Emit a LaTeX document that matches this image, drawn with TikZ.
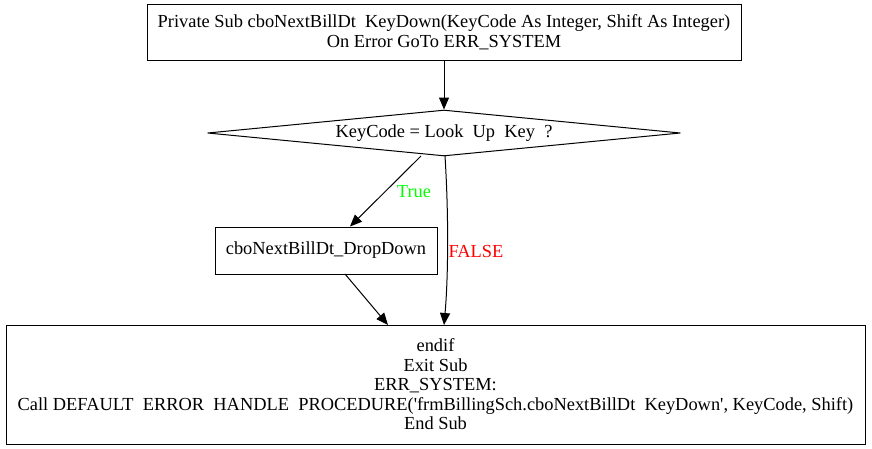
\documentclass[tikz,border=0pt]{standalone}
\usepackage{fontspec}
\setmainfont{Liberation Serif}
\usetikzlibrary{shapes.geometric,arrows.meta,positioning}

\begin{document}
\begin{tikzpicture}[x=1pt,y=-1pt,line width=1pt]
    \tikzset{
    stmt/.style={
        draw,
        fill=white,
        align=center,
        inner sep=0pt,
        font=\fontsize{18.4}{19.5}\selectfont
    },
    cond/.style={
        draw,
        diamond,
        aspect=10.3,
        inner sep=0pt,
        minimum width=473pt,
        minimum height=46pt,
        font=\fontsize{18.4}{19.5}\selectfont
    },
    flow/.style={
        -{Triangle[length=12pt,width=10pt]}
    },
    lbl/.style={
        font=\fontsize{18.4}{19.5}\selectfont
    }
}
        \useasboundingbox (0,0) rectangle (872,448);

        \node[stmt, minimum width=594pt, minimum height=56pt] (Start) at (444,32)
            {Private Sub cboNextBillDt\ \ KeyDown(KeyCode As Integer, Shift As Integer)\\On Error GoTo ERR\_SYSTEM};

        \node[cond] (Check) at (444,133) {KeyCode = Look\ \ Up\ \ Key\ \ ?};

        \node[stmt, minimum width=222pt, minimum height=47pt] (DropDown) at (326,250.5) {cboNextBillDt\_DropDown};

        \node[stmt, minimum width=859pt, minimum height=119pt] (EndSub) at (435.5,384.5)
            {endif\\Exit Sub\\ERR\_SYSTEM:\\Call DEFAULT\ \ ERROR\ \ HANDLE\ \ PROCEDURE(\textquotesingle frmBillingSch.cboNextBillDt\ \ KeyDown\textquotesingle, KeyCode, Shift)\\End Sub};

        \draw [flow] (421,156) -- (DropDown.north -| 350,0);
        \draw [flow] (Start) -- (Check);
        \node[lbl, text=green] (TrueLbl) at (414,192) {True};
        \draw [flow] (445,156) .. controls (449,220) and (448,280) .. (444,325);
        \node[lbl, text=red] (FalseLbl) at (476,251) {FALSE};
        \draw [flow] (345,274) -- (388,325);
    \end{tikzpicture}
\end{document}
